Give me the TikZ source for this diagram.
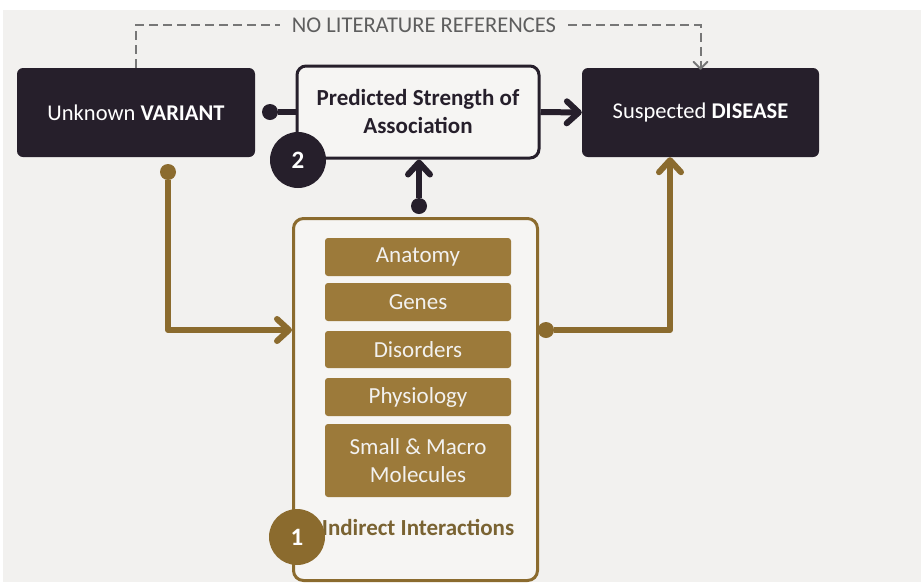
\documentclass[tikz,border=0pt]{standalone}
\usepackage{fontspec}
\setmainfont{Carlito}
\usetikzlibrary{arrows.meta}
\definecolor{bg}{HTML}{F2F1EF}
\definecolor{ink}{HTML}{261F2B}
\definecolor{gold}{HTML}{8B6B2E}
\definecolor{goldbox}{HTML}{9C7A3A}
\definecolor{goldtext}{HTML}{7A6332}
\definecolor{paper}{HTML}{F6F5F3}
\definecolor{dashgray}{HTML}{777777}
\definecolor{hinttext}{HTML}{5E5E5E}
\begin{document}
\begin{tikzpicture}[x=1pt,y=-1pt,
  darkbox/.style={fill=ink,rounded corners=6pt,minimum width=238pt,minimum height=89pt,
    text=white,font=\fontsize{22.5}{26}\selectfont,inner sep=0pt},
  predbox/.style={fill=paper,draw=ink,line width=3pt,rounded corners=9pt,
    minimum width=242pt,minimum height=92pt,text=ink,align=center,
    font=\fontsize{23}{28}\selectfont\bfseries,inner sep=0pt},
  groupbox/.style={fill=paper,draw=gold,line width=3pt,rounded corners=10pt,
    minimum width=244pt,minimum height=362pt,inner sep=0pt},
  itembox/.style={fill=goldbox,rounded corners=3pt,minimum width=186pt,
    text=bg,align=center,font=\fontsize{23}{28}\selectfont,inner sep=0pt},
  badge/.style={circle,minimum size=56pt,inner sep=0pt,text=white,
    font=\fontsize{25}{28}\selectfont\bfseries},
  dot/.style={circle,minimum size=16pt,inner sep=0pt},
  darkline/.style={draw=ink,line width=6pt},
  goldline/.style={draw=gold,line width=6pt},
  barb/.style={-{Straight Barb[length=12pt,width=22pt,round]}},
  hintline/.style={draw=dashgray,line width=2pt,dash pattern=on 9pt off 5pt}
]
% canvas
\fill[white] (0,0) rectangle (921,582);
\fill[bg] (3,10) rectangle (921,582);
\useasboundingbox (0,0) rectangle (921,582);

% main row
\node[darkbox] (var) at (136,112.5) {Unknown \textbf{VARIANT}};
\node[predbox] (pred) at (418,112) {Predicted Strength of\\Association};
\node[darkbox,minimum width=237pt] (dis) at (700.5,112.5) {Suspected \textbf{DISEASE}};

% indirect interactions group
\node[groupbox] (grp) at (415.5,399.5) {};
\node[itembox,minimum height=38pt] (anat) at (418,257) {Anatomy};
\node[itembox,minimum height=38pt] (genes) at (418,302) {Genes};
\node[itembox,minimum height=37pt] (disord) at (418,349.5) {Disorders};
\node[itembox,minimum height=38pt] (phys) at (418,397) {Physiology};
\node[itembox,minimum height=73pt] (mol) at (418,460.5) {Small \& Macro\\Molecules};
\node[text=goldtext,font=\fontsize{23}{26}\selectfont\bfseries] (indir) at (418,527) {Indirect Interactions};

% dashed hint above
\node[text=hinttext,font=\fontsize{22.5}{24}\selectfont,inner xsep=12pt] (nolit) at (424,25) {NO LITERATURE REFERENCES};
\draw[hintline] (var.north) |- (nolit.west);
\draw[hintline,-{Straight Barb[length=7pt,width=14pt,round]}] (nolit.east) -| ([yshift=-2pt]dis.north);

% dark connectors
\node[dot,fill=ink] (d1) at (270,112) {};
\draw[darkline] (d1) -- (pred.west);
\draw[darkline,barb] (pred.east) -- (dis.west);
\node[dot,fill=ink] (d2) at (419,206) {};
\draw[darkline,barb] (d2) -- (d2 |- pred.south);

% gold connectors
\node[dot,fill=gold] (d3) at (168,172) {};
\node[dot,fill=gold] (d4) at (546,330) {};
\draw[goldline,barb,line join=round] (d3) |- (d4 -| grp.west);
\draw[goldline,barb,line join=round] (d4) -| ([xshift=-30.5pt]dis.south);

% step badges
\node[badge,fill=ink] (b2) at (298,160) {2};
\node[badge,fill=gold] (b1) at (297,537) {1};
\end{tikzpicture}
\end{document}
